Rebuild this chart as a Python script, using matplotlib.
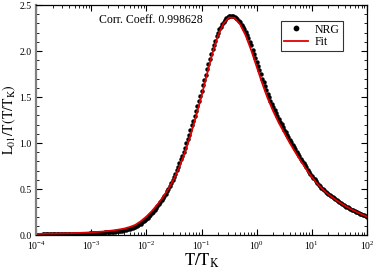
import numpy as np
import matplotlib
matplotlib.use('Agg')
import matplotlib.pyplot as plt
from matplotlib.ticker import LogLocator, MultipleLocator, NullFormatter

plt.rcParams['font.family'] = ['Liberation Serif', 'DejaVu Serif']
plt.rcParams['mathtext.fontset'] = 'stix'

# NRG data: log10(T/T_K) from -4 to 2 in steps of 0.025
nrg_log_t = np.arange(241) * 0.025 - 4.0
nrg_vals = [
    0.0050, 0.0051, 0.0053, 0.0054, 0.0055, 0.0056, 0.0058, 0.0059,
    0.0060, 0.0062, 0.0065, 0.0067, 0.0070, 0.0072, 0.0075, 0.0077,
    0.0080, 0.0082, 0.0085, 0.0087, 0.0090, 0.0092, 0.0095, 0.0097,
    0.0100, 0.0104, 0.0107, 0.0111, 0.0115, 0.0119, 0.0122, 0.0126,
    0.0130, 0.0135, 0.0140, 0.0145, 0.0150, 0.0155, 0.0160, 0.0165,
    0.0170, 0.0180, 0.0190, 0.0200, 0.0210, 0.0220, 0.0230, 0.0240,
    0.0250, 0.0262, 0.0275, 0.0287, 0.0300, 0.0315, 0.0330, 0.0345,
    0.0360, 0.0380, 0.0400, 0.0420, 0.0440, 0.0462, 0.0485, 0.0507,
    0.0530, 0.0565, 0.0600, 0.0640, 0.0680, 0.0730, 0.0785, 0.0840,
    0.0900, 0.0980, 0.1070, 0.1160, 0.1250, 0.1360, 0.1470, 0.1580,
    0.1700, 0.1850, 0.2020, 0.2180, 0.2350, 0.2530, 0.2720, 0.2910,
    0.3100, 0.3320, 0.3540, 0.3770, 0.4000, 0.4240, 0.4490, 0.4740,
    0.5000, 0.5310, 0.5630, 0.5960, 0.6300, 0.6660, 0.7040, 0.7420,
    0.7800, 0.8220, 0.8640, 0.9070, 0.9500, 0.9970, 1.0440, 1.0920,
    1.1400, 1.1920, 1.2440, 1.2970, 1.3500, 1.4050, 1.4600, 1.5150,
    1.5700, 1.6270, 1.6850, 1.7420, 1.8000, 1.8560, 1.9120, 1.9670,
    2.0200, 2.0680, 2.1140, 2.1580, 2.2000, 2.2340, 2.2660, 2.2940,
    2.3200, 2.3390, 2.3560, 2.3700, 2.3800, 2.3840, 2.3850, 2.3800,
    2.3700, 2.3580, 2.3430, 2.3280, 2.3100, 2.2870, 2.2620, 2.2370,
    2.2100, 2.1740, 2.1370, 2.0990, 2.0600, 2.0150, 1.9700, 1.9250,
    1.8800, 1.8350, 1.7900, 1.7450, 1.7000, 1.6590, 1.6170, 1.5760,
    1.5350, 1.4990, 1.4620, 1.4260, 1.3900, 1.3570, 1.3250, 1.2920,
    1.2600, 1.2310, 1.2030, 1.1740, 1.1450, 1.1170, 1.0900, 1.0620,
    1.0350, 1.0090, 0.9820, 0.9560, 0.9300, 0.9050, 0.8800, 0.8550,
    0.8300, 0.8060, 0.7830, 0.7590, 0.7350, 0.7120, 0.6900, 0.6670,
    0.6450, 0.6250, 0.6050, 0.5850, 0.5650, 0.5480, 0.5320, 0.5160,
    0.5000, 0.4860, 0.4720, 0.4590, 0.4450, 0.4330, 0.4210, 0.4100,
    0.3980, 0.3870, 0.3770, 0.3660, 0.3560, 0.3460, 0.3370, 0.3270,
    0.3180, 0.3090, 0.3010, 0.2920, 0.2840, 0.2760, 0.2690, 0.2610,
    0.2540, 0.2470, 0.2400, 0.2330, 0.2260, 0.2190, 0.2130, 0.2060,
    0.2000,
]

# fit curve: log10(T/T_K) from -4 to 2 in steps of 0.1
fit_log_t = np.arange(61) * 0.1 - 4.0
fit_vals = [
    0.012, 0.013, 0.014, 0.015, 0.016, 0.0175, 0.019, 0.021, 0.023, 0.026,
    0.029, 0.033, 0.037, 0.043, 0.050, 0.059, 0.070, 0.087, 0.110, 0.150,
    0.200, 0.260, 0.330, 0.410, 0.500, 0.610, 0.740, 0.900, 1.080, 1.290,
    1.510, 1.750, 1.980, 2.170, 2.300, 2.365, 2.360, 2.290, 2.170, 2.010,
    1.830, 1.650, 1.485, 1.345, 1.220, 1.110, 1.000, 0.900, 0.805, 0.715,
    0.630, 0.557, 0.495, 0.442, 0.396, 0.355, 0.318, 0.284, 0.254, 0.226,
    0.200,
]

corr_coeff = 0.998628

fig = plt.figure(figsize=(3.74, 2.71), dpi=100)
ax = fig.add_axes([0.0963, 0.1328, 0.8850, 0.8487])

ax.plot(10.0 ** nrg_log_t, nrg_vals, linestyle='none', marker='o',
    markersize=3.2, color='k', markeredgewidth=0, label='NRG')
ax.plot(10.0 ** fit_log_t, fit_vals, color='#e00000', linewidth=1.3,
    label='Fit')

ax.set_xscale('log')
ax.set_xlim(1e-4, 1e2)
ax.set_ylim(0.0, 2.5)

ax.yaxis.set_major_locator(MultipleLocator(0.5))
ax.yaxis.set_minor_locator(MultipleLocator(0.1))
ax.yaxis.set_major_formatter(plt.FuncFormatter(lambda v, p: '%.1f' % v))
ax.xaxis.set_major_locator(LogLocator(base=10, numticks=10))
ax.xaxis.set_minor_locator(LogLocator(base=10, subs=np.arange(2, 10), numticks=20))
ax.xaxis.set_minor_formatter(NullFormatter())

ax.tick_params(which='both', direction='in', top=True, right=True,
    labelsize=7, pad=3)
ax.tick_params(which='major', length=4, width=0.8)
ax.tick_params(which='minor', length=2, width=0.6)

for side in ['top', 'right', 'bottom']:
    ax.spines[side].set_linewidth(0.9)
ax.spines['left'].set_color('#808080')
ax.spines['left'].set_linewidth(1.6)

ax.set_xlabel(r'$\mathrm{T/T_K}$', fontsize=12, labelpad=0)
ax.set_ylabel(r'$\mathrm{L_{01}/T(T/T_K)}$', fontsize=10)
ax.yaxis.set_label_coords(-0.055, 0.5)

ax.text(0.19, 0.935, 'Corr. Coeff. %.6f' % corr_coeff, transform=ax.transAxes,
    fontsize=8.5, va='center', ha='left')

leg = ax.legend(loc='upper right', bbox_to_anchor=(0.927, 0.932), fontsize=8.5,
    frameon=True, fancybox=False, borderpad=0.25, handlelength=2.0,
    handletextpad=0.6, labelspacing=0.05, borderaxespad=0.0, markerscale=1.3)
leg.get_frame().set_edgecolor('k')
leg.get_frame().set_linewidth(0.8)

fig.savefig('out.png', dpi=100)
